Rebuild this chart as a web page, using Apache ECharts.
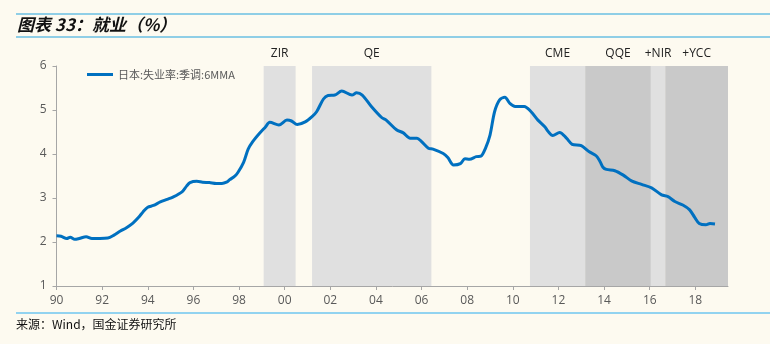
<!DOCTYPE html>
<html><head><meta charset="utf-8">
<script src="https://cdn.jsdelivr.net/npm/echarts@6/dist/echarts.min.js"></script>
<style>html,body{margin:0;padding:0;background:#FDFAF0}#c{width:770px;height:344px}</style>
</head><body><div id="c"></div>
<script>
// Decimal-year positions and values (Japan unemployment rate, SA, 6MMA, %)
const years = [1990.00,1990.20,1990.45,1990.60,1990.80,1991.00,1991.30,1991.55,1991.90,1992.25,1992.50,1992.80,
1993.05,1993.35,1993.60,1993.80,1994.00,1994.25,1994.55,1994.85,1995.10,1995.50,1995.70,1995.85,1996.15,1996.40,
1996.70,1997.00,1997.25,1997.45,1997.60,1997.80,1997.95,1998.20,1998.40,1998.60,1998.90,1999.15,1999.35,1999.75,
2000.10,2000.30,2000.55,2000.90,2001.20,2001.40,2001.70,2001.90,2002.20,2002.50,2002.95,2003.15,2003.40,2003.80,
2004.25,2004.45,2004.90,2005.20,2005.50,2005.80,2006.00,2006.30,2006.50,2006.95,2007.15,2007.40,2007.70,2007.90,
2008.10,2008.40,2008.60,2008.80,2009.00,2009.20,2009.42,2009.65,2009.87,2010.10,2010.50,2010.80,2011.10,2011.40,
2011.55,2011.75,2012.05,2012.35,2012.60,2013.00,2013.35,2013.65,2013.82,2013.95,2014.10,2014.47,2014.84,2015.20,
2015.64,2016.08,2016.52,2016.80,2017.10,2017.45,2017.75,2017.97,2018.17,2018.46,2018.64,2018.86];
const unemp = [2.14,2.13,2.08,2.11,2.06,2.08,2.12,2.08,2.08,2.09,2.15,2.25,
2.32,2.43,2.56,2.69,2.79,2.83,2.91,2.97,3.02,3.14,3.27,3.35,3.38,3.36,
3.35,3.33,3.33,3.36,3.42,3.49,3.58,3.81,4.11,4.28,4.47,4.61,4.72,4.66,
4.77,4.75,4.67,4.73,4.85,4.96,5.25,5.33,5.34,5.43,5.34,5.39,5.34,5.08,
4.83,4.77,4.55,4.48,4.36,4.36,4.28,4.13,4.11,4.01,3.92,3.75,3.78,3.89,
3.88,3.94,3.95,4.13,4.43,4.96,5.23,5.29,5.15,5.08,5.08,4.96,4.77,4.62,
4.51,4.42,4.49,4.36,4.22,4.19,4.05,3.96,3.83,3.70,3.65,3.62,3.52,3.39,
3.31,3.23,3.07,3.03,2.92,2.84,2.73,2.56,2.42,2.39,2.42,2.41];
// Policy regimes
const regimeNames = ['ZIR','QE','CME','QQE','+NIR','+YCC'];
const regimeStart = [1999.08,2001.20,2010.75,2013.17,2016.05,2016.68];
const regimeEnd   = [2000.48,2006.43,2013.17,2016.05,2016.68,2019.43];
const regimeDark  = [false,false,false,true,false,true];
const xTicks = [1990,1992,1994,1996,1998,2000,2002,2004,2006,2008,2010,2012,2014,2016,2018];
const seriesName = '日本:失业率:季调:6MMA';

const chart = echarts.init(document.getElementById('c'));
const pts = years.map((y,i)=>[y,unemp[i]]);
const areas = regimeNames.map((n,i)=>[
  {name:n, xAxis:regimeStart[i], itemStyle:{color: regimeDark[i] ? '#C9C9C9' : '#E0E0E0'}},
  {xAxis:regimeEnd[i]}
]);
chart.setOption({
  backgroundColor:'#FDFAF0',
  animation:false,
  textStyle:{fontFamily:'"Open Sans","Noto Sans CJK SC",sans-serif'},
  grid:{left:56.5,right:42,top:66,bottom:58},
  legend:{left:82,top:64,itemWidth:26,itemHeight:3,itemGap:4,
    icon:'rect',
    textStyle:{fontSize:11,color:'#595959',fontFamily:'"Noto Sans CJK SC",sans-serif'},
    data:[{name:seriesName}]},
  xAxis:{type:'value',min:1990,max:2019.43,interval:2,
    axisLine:{lineStyle:{color:'#A6A6A6'}},
    axisTick:{show:true,length:4,lineStyle:{color:'#A6A6A6'},customValues:xTicks},
    axisLabel:{fontSize:12,color:'#595959',margin:9,customValues:xTicks,
      formatter:v=>String(Math.round(v)%100).padStart(2,'0')},
    splitLine:{show:false}},
  yAxis:{type:'value',min:1,max:6,interval:1,
    axisLine:{show:true,lineStyle:{color:'#A6A6A6'}},
    axisTick:{show:true,length:4,lineStyle:{color:'#A6A6A6'}},
    axisLabel:{fontSize:12,color:'#595959',margin:10},
    splitLine:{show:false}},
  series:[{name:seriesName,type:'line',data:pts,showSymbol:false,smooth:0.3,
    lineStyle:{width:3,color:'#0070C0'},itemStyle:{color:'#0070C0'},z:5,
    markArea:{silent:true,
      label:{show:true,position:'top',distance:6,fontSize:12,color:'#222',
        fontFamily:'"Open Sans",sans-serif'},
      data:areas}}],
  graphic:[
    {type:'line',shape:{x1:16,y1:14,x2:770,y2:14},style:{stroke:'#22A2DC',lineWidth:1.2}},
    {type:'line',shape:{x1:16,y1:37,x2:770,y2:37},style:{stroke:'#22A2DC',lineWidth:1.2}},
    {type:'text',left:17,top:16,style:{text:'图表 33：就业（%）',fontSize:17,fontWeight:'bold',fontStyle:'italic',
      fill:'#111',fontFamily:'"Noto Sans CJK SC",sans-serif'}},
    {type:'line',shape:{x1:16,y1:313,x2:770,y2:313},style:{stroke:'#92D3F0',lineWidth:2}},
    {type:'text',left:16,top:318,style:{text:'来源：Wind，国金证券研究所',fontSize:12,fill:'#111',
      fontFamily:'"Noto Sans CJK SC",sans-serif'}}
  ]
});
</script></body></html>
